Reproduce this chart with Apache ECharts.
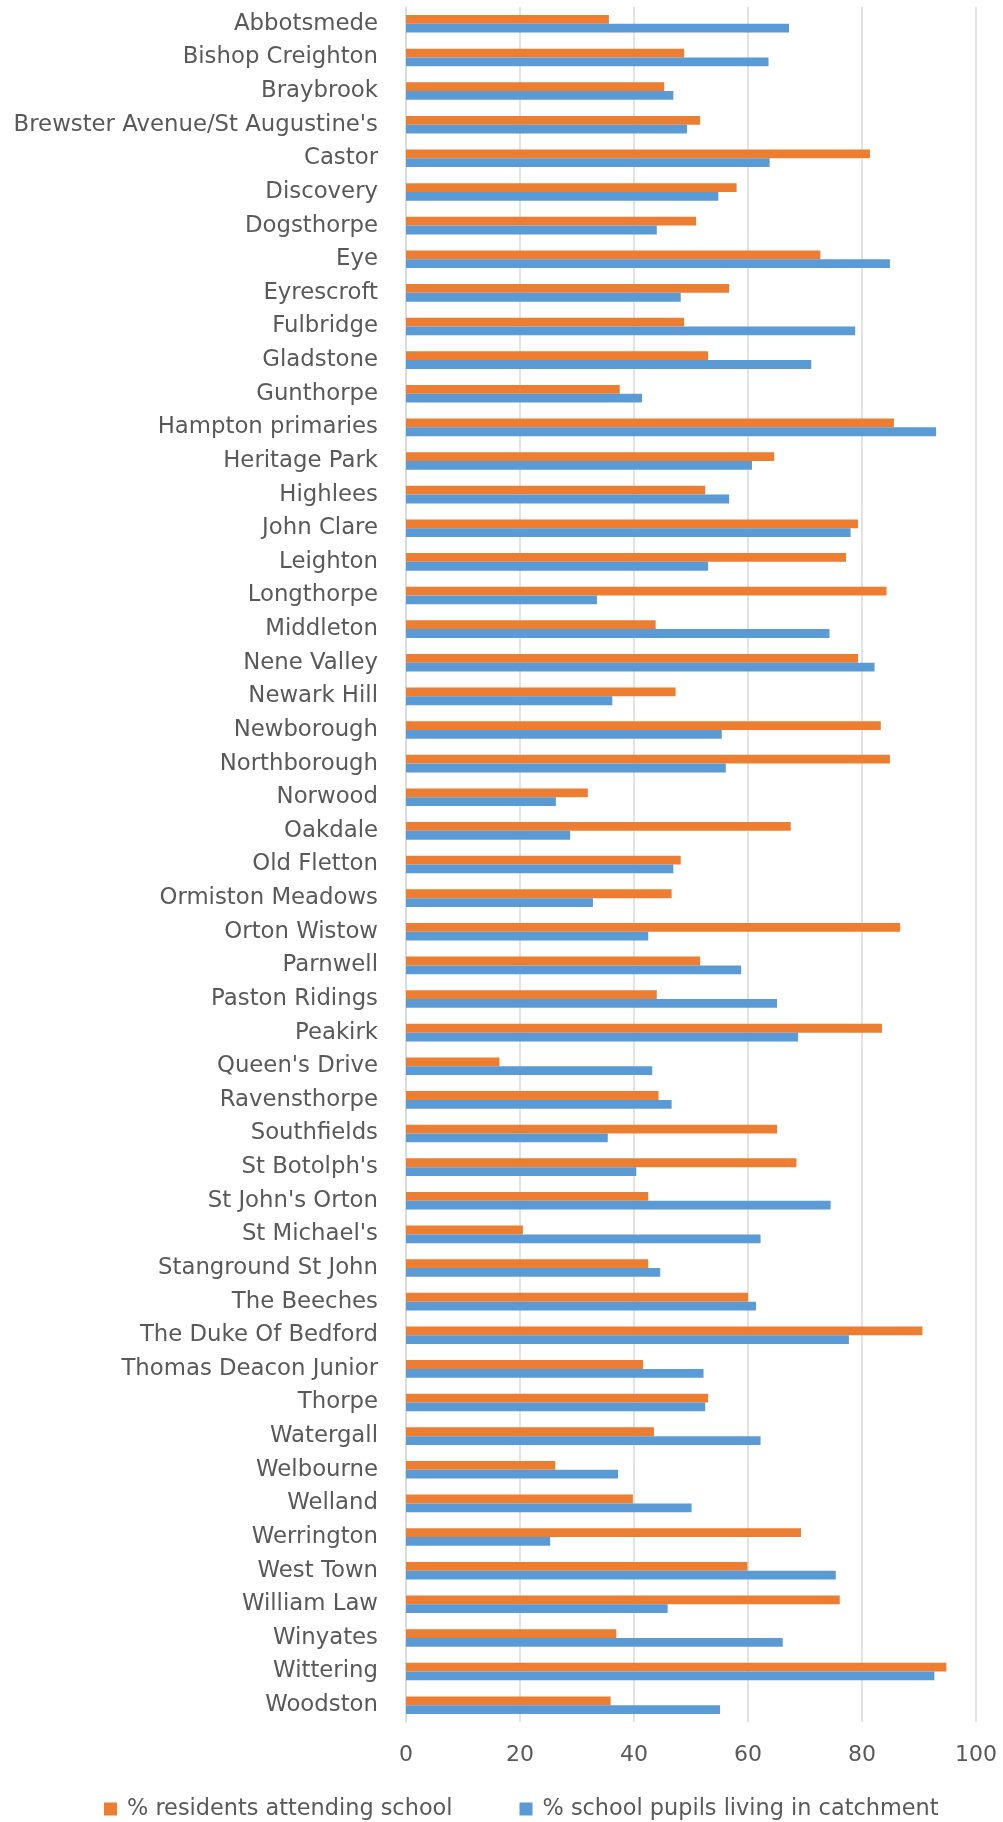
<!DOCTYPE html>
<html>
<head>
  <meta charset="utf-8">
  <title>Catchment chart</title>
  <script src="https://cdn.jsdelivr.net/npm/echarts@6/dist/echarts.min.js"></script>
  <style>
  html, body { margin: 0; padding: 0; background: #fff; }
  #main { width: 1003px; height: 1822px; }
  </style>
</head>
<body>
  <div id="main"></div>
  <script type="text/javascript">
  var schools = ['Abbotsmede', 'Bishop Creighton', 'Braybrook', "Brewster Avenue/St Augustine's", 'Castor',
    'Discovery', 'Dogsthorpe', 'Eye', 'Eyrescroft', 'Fulbridge', 'Gladstone', 'Gunthorpe', 'Hampton primaries',
    'Heritage Park', 'Highlees', 'John Clare', 'Leighton', 'Longthorpe', 'Middleton', 'Nene Valley', 'Newark Hill',
    'Newborough', 'Northborough', 'Norwood', 'Oakdale', 'Old Fletton', 'Ormiston Meadows', 'Orton Wistow',
    'Parnwell', 'Paston Ridings', 'Peakirk', "Queen's Drive", 'Ravensthorpe', 'Southfields', "St Botolph's",
    "St John's Orton", "St Michael's", 'Stanground St John', 'The Beeches', 'The Duke Of Bedford',
    'Thomas Deacon Junior', 'Thorpe', 'Watergall', 'Welbourne', 'Welland', 'Werrington', 'West Town',
    'William Law', 'Winyates', 'Wittering', 'Woodston'];

  var residents = [35.6, 48.8, 45.3, 51.6, 81.4, 58.0, 50.9, 72.7, 56.7, 48.8,
    53.0, 37.5, 85.6, 64.6, 52.5, 79.3, 77.2, 84.3, 43.8, 79.3,
    47.3, 83.3, 84.9, 31.9, 67.5, 48.2, 46.6, 86.7, 51.6, 44.0,
    83.5, 16.4, 44.3, 65.1, 68.5, 42.5, 20.5, 42.5, 60.0, 90.6,
    41.6, 53.0, 43.5, 26.2, 39.8, 69.3, 59.9, 76.1, 36.9, 94.8, 35.9];

  var pupils = [67.2, 63.6, 46.9, 49.3, 63.8, 54.8, 44.0, 84.9, 48.2, 78.8,
    71.1, 41.4, 93.0, 60.7, 56.7, 78.0, 53.0, 33.5, 74.3, 82.2,
    36.2, 55.4, 56.1, 26.3, 28.8, 46.9, 32.8, 42.5, 58.8, 65.1,
    68.8, 43.2, 46.6, 35.4, 40.4, 74.5, 62.2, 44.6, 61.4, 77.7,
    52.2, 52.5, 62.2, 37.2, 50.1, 25.3, 75.4, 45.9, 66.1, 92.7, 55.1];

  var seriesNames = ['% residents attending school', '% school pupils living in catchment'];
  var textColor = '#595959';
  var fontFamily = 'DejaVu Sans';

  var myChart = echarts.init(document.getElementById('main'));
  var option = {
    animation: false,
    color: ['#ED7D31', '#5B9BD5'],
    textStyle: { fontFamily: fontFamily },
    grid: { left: 406, right: 27, top: 7, bottom: 100, containLabel: false },
    legend: {
      left: 99,
      top: 1793,
      icon: 'rect',
      itemWidth: 13,
      itemHeight: 13,
      itemGap: 67,
      textStyle: { fontSize: 22.4, color: textColor, fontFamily: fontFamily, padding: [0, 0, 0, 5] },
      data: seriesNames
    },
    xAxis: {
      type: 'value',
      min: 0,
      max: 100,
      interval: 20,
      axisLine: { show: false },
      axisTick: { show: false },
      axisLabel: { fontSize: 22, color: textColor, margin: 22 },
      splitLine: { lineStyle: { color: '#d9d9d9', width: 1.5 } }
    },
    yAxis: {
      type: 'category',
      inverse: true,
      data: schools,
      axisLine: { show: true, lineStyle: { color: '#d9d9d9', width: 1.5 } },
      axisTick: { show: false },
      axisLabel: { fontSize: 22.8, color: textColor, margin: 28, interval: 0 }
    },
    series: [{
      name: seriesNames[0],
      type: 'bar',
      data: residents,
      barWidth: 8.8,
      barGap: '0%'
    }, {
      name: seriesNames[1],
      type: 'bar',
      data: pupils,
      barWidth: 8.8,
      barGap: '0%'
    }]
  };
  myChart.setOption(option);
  window.onresize = myChart.resize;
  </script>
</body>
</html>
